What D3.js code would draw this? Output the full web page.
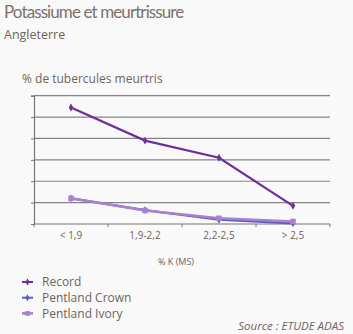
<!DOCTYPE html>
<html>
<head>
<meta charset="utf-8">
<script src="https://cdn.jsdelivr.net/npm/d3@7"></script>
<style>
  html, body { margin: 0; padding: 0; background: #f9f9f9; }
  svg { display: block; font-family: "Open Sans", "Noto Sans", sans-serif; }
</style>
</head>
<body>
<svg id="chart" width="353" height="334"></svg>
<script>
// Potassium level classes (% K in dry matter)
const categories = ["< 1,9", "1,9-2,2", "2,2-2,5", "> 2,5"];
// Share of bruised tubers per variety
const seriesNames = ["Record", "Pentland Crown", "Pentland Ivory"];
const recordValues = [5.45, 3.9, 3.1, 0.85];
const crownValues = [1.2, 0.65, 0.2, 0.03];
const ivoryValues = [1.2, 0.63, 0.27, 0.12];
const seriesColors = ["#6c2f9e", "#5a5dbf", "#a982cf"];
const yTicks = [0, 1, 2, 3, 4, 5, 6];

const series = [recordValues, crownValues, ivoryValues].map((v, i) => ({
  name: seriesNames[i], values: v, color: seriesColors[i]
}));

const svg = d3.select("#chart");
const textColor = "#6f635b";

const plot = { left: 34, right: 330, top: 95.7, bottom: 224 };

const x = d3.scaleBand().domain(categories).range([plot.left, plot.right]);
const y = d3.scaleLinear().domain([0, 6]).range([plot.bottom, plot.top]);

// Titles
svg.append("text").attr("x", 4).attr("y", 18)
  .attr("fill", "#7d716a").attr("font-size", 17).attr("letter-spacing", -0.9)
  .attr("font-family", "Lato, 'Open Sans', sans-serif")
  .text("Potassiume et meurtrissure");
svg.append("text").attr("x", 4).attr("y", 39)
  .attr("fill", textColor).attr("font-size", 12.5)
  .text("Angleterre");
svg.append("text").attr("x", 22).attr("y", 83)
  .attr("fill", textColor).attr("font-size", 12)
  .text("% de tubercules meurtris");

// Horizontal gridlines
svg.append("g").selectAll("line").data(yTicks.slice(1)).join("line")
  .attr("x1", plot.left).attr("x2", plot.right)
  .attr("y1", d => y(d)).attr("y2", d => y(d))
  .attr("stroke", "#858585").attr("stroke-width", 1.2);

// Y axis (no labels)
const yAxis = svg.append("g").attr("transform", `translate(${plot.left},0)`)
  .call(d3.axisLeft(y).tickValues(yTicks).tickSize(3).tickFormat(""));
yAxis.select(".domain").attr("stroke", "#777").attr("stroke-width", 1.2);
yAxis.selectAll(".tick line").attr("stroke", "#777");

// X axis with ticks at band boundaries
const xAxisG = svg.append("g").attr("transform", `translate(0,${plot.bottom})`);
xAxisG.append("line").attr("x1", plot.left).attr("x2", plot.right)
  .attr("stroke", "#777").attr("stroke-width", 1.2);
const bounds = categories.map(c => x(c)).concat([x.range()[1]]);
xAxisG.selectAll("line.tk").data(bounds).join("line").attr("class", "tk")
  .attr("x1", d => d).attr("x2", d => d).attr("y1", 0).attr("y2", 3)
  .attr("stroke", "#777");
xAxisG.selectAll("text").data(categories).join("text")
  .attr("x", d => x(d) + x.bandwidth() / 2).attr("y", 15)
  .attr("text-anchor", "middle").attr("fill", textColor).attr("font-size", 10)
  .text(d => d);

svg.append("text").attr("x", 176).attr("y", 265)
  .attr("text-anchor", "middle").attr("fill", textColor).attr("font-size", 9)
  .text("% K (MS)");

// Series lines, drawn so the Record line sits on top
const line = d3.line()
  .x((d, i) => x(categories[i]) + x.bandwidth() / 2)
  .y(d => y(d));

const drawOrder = [series[1], series[2], series[0]];
drawOrder.forEach(s => {
  const g = svg.append("g");
  g.append("path").attr("d", line(s.values))
    .attr("fill", "none").attr("stroke", s.color).attr("stroke-width", s.name === "Pentland Ivory" ? 2.6 : 2.2);
  g.selectAll("path.m").data(s.values).join("path").attr("class", "m")
    .attr("transform", (d, i) => `translate(${x(categories[i]) + x.bandwidth() / 2},${y(d)})`)
    .attr("d", s.name === "Pentland Ivory"
      ? d3.symbol(d3.symbolSquare, 30)()
      : d3.symbol(d3.symbolDiamond, 18)())
    .attr("fill", s.color);
});

// Legend
const legend = svg.append("g");
series.forEach((s, i) => {
  const ly = 282 + i * 15.7;
  legend.append("line").attr("x1", 22).attr("x2", 33).attr("y1", ly).attr("y2", ly)
    .attr("stroke", s.color).attr("stroke-width", i === 2 ? 2.6 : 2);
  legend.append("path")
    .attr("transform", `translate(27.5,${ly})`)
    .attr("d", i === 2 ? d3.symbol(d3.symbolSquare, 22)() : d3.symbol(d3.symbolDiamond, 14)())
    .attr("fill", s.color);
  legend.append("text").attr("x", 42).attr("y", ly + 4.3)
    .attr("fill", textColor).attr("font-size", 12)
    .text(s.name);
});

svg.append("text").attr("x", 344).attr("y", 330)
  .attr("text-anchor", "end").attr("fill", textColor).attr("font-size", 11.5)
  .attr("font-style", "italic")
  .text("Source : ETUDE ADAS");
</script>
</body>
</html>
